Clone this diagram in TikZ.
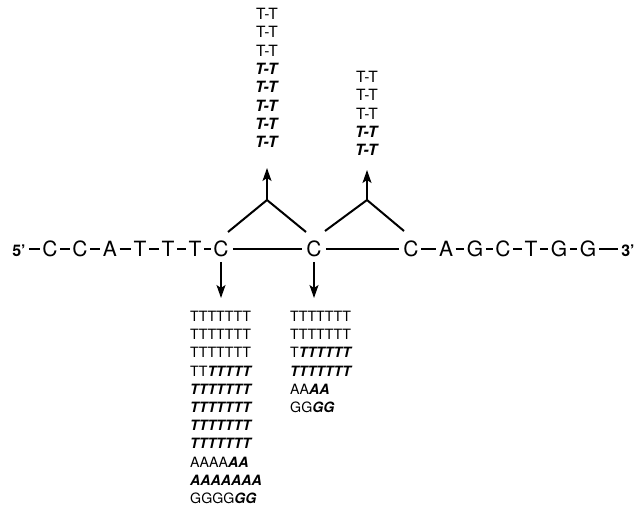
\documentclass[tikz,border=0pt]{standalone}
\usepackage{fontspec}
\setmainfont{TeX Gyre Heros}
\usetikzlibrary{arrows.meta}
\newcommand{\bitx}[1]{\textbf{\textit{#1}}}
\tikzset{
  base/.style={inner xsep=2.5pt, inner ysep=0pt, text height=15.2pt, text depth=0pt,
    font={\fontsize{21}{24}\selectfont}},
  endlab/.style={inner xsep=3pt, inner ysep=0pt, text height=15.2pt, text depth=0pt,
    font={\fontsize{16}{19}\bfseries\selectfont}},
  dashln/.style={line width=1.4pt},
  baseln/.style={line width=1.5pt, shorten <=1.5pt, shorten >=1.5pt},
  triln/.style={line width=2pt},
  arr/.style={line width=1.6pt, -{Stealth[length=13pt,width=9pt,inset=3pt]}},
  stack/.style={inner sep=0pt, align=center, font={\fontsize{15.5}{18.3}\selectfont}},
  column/.style={inner sep=0pt, align=left, font={\fontsize{14.2}{18.2}\selectfont}}
}
\begin{document}
\begin{tikzpicture}[x=1pt,y=-1pt]
\useasboundingbox (0,0) rectangle (639,513);
% sequence
\node[endlab] (p5) at (19,249) {5'};
\node[base] (b1) at (50,249) {C};
\node[base] (b2) at (80,249) {C};
\node[base] (b3) at (110,249) {A};
\node[base] (b4) at (140,249) {T};
\node[base] (b5) at (168,249) {T};
\node[base] (b6) at (195,249) {T};
\node[base] (cL) at (221,249) {C};
\node[base] (cM) at (314,249) {C};
\node[base] (cR) at (411,249) {C};
\node[base] (b8) at (446,249) {A};
\node[base] (b9) at (475,249) {G};
\node[base] (b10) at (503,249) {C};
\node[base] (b11) at (531,249) {T};
\node[base] (b12) at (559,249) {G};
\node[base] (b13) at (588,249) {G};
\node[endlab] (p3) at (628,249) {3'};
\foreach \a/\b in {p5/b1,b1/b2,b2/b3,b3/b4,b4/b5,b5/b6,b6/cL,cR/b8,b8/b9,b9/b10,b10/b11,b11/b12,b12/b13,b13/p3}
  \draw[dashln] (\a.east) -- (\b.west);
% base lines between the C's
\draw[baseln] (cL.east) -- (cM.west);
\draw[baseln] (cM.east) -- (cR.west);
% triangles
\coordinate (apexL) at (267,200);
\coordinate (apexR) at (367,200);
\coordinate (tL1) at (228,232);
\coordinate (tL2) at (306,232);
\coordinate (tR1) at (325,231);
\coordinate (tR2) at (404,231);
\draw[triln] (tL1) -- (apexL) -- (tL2);
\draw[triln] (tR1) -- (apexR) -- (tR2);
% top stacks
\node[stack, anchor=south] (stackL) at (267,148) {T-T\\T-T\\T-T\\\bitx{T-T}\\\bitx{T-T}\\\bitx{T-T}\\\bitx{T-T}\\\bitx{T-T}};
\node[stack, anchor=south] (stackR) at (367,156) {T-T\\T-T\\T-T\\\bitx{T-T}\\\bitx{T-T}};
\draw[arr, shorten >=20pt] (apexL) -- (stackL.south);
\draw[arr, shorten >=14pt] (apexR) -- (stackR.south);
% lower columns
\node[column, anchor=north west] (colL) at (190,311) {TTTTTTT\\TTTTTTT\\TTTTTTT\\TT\bitx{TTTTT}\\\bitx{TTTTTTT}\\\bitx{TTTTTTT}\\\bitx{TTTTTTT}\\\bitx{TTTTTTT}\\AAAA\bitx{AA}\\\bitx{AAAAAAA}\\GGGG\bitx{GG}};
\node[column, anchor=north west] (colM) at (290,311) {TTTTTTT\\TTTTTTT\\T\bitx{TTTTTT}\\\bitx{TTTTTTT}\\AA\bitx{AA}\\GG\bitx{GG}};
\draw[arr, shorten <=5pt, shorten >=13pt] (cL.south) -- (cL.south |- colL.north);
\draw[arr, shorten <=5pt, shorten >=13pt] (cM.south) -- (cM.south |- colM.north);
\end{tikzpicture}
\end{document}
